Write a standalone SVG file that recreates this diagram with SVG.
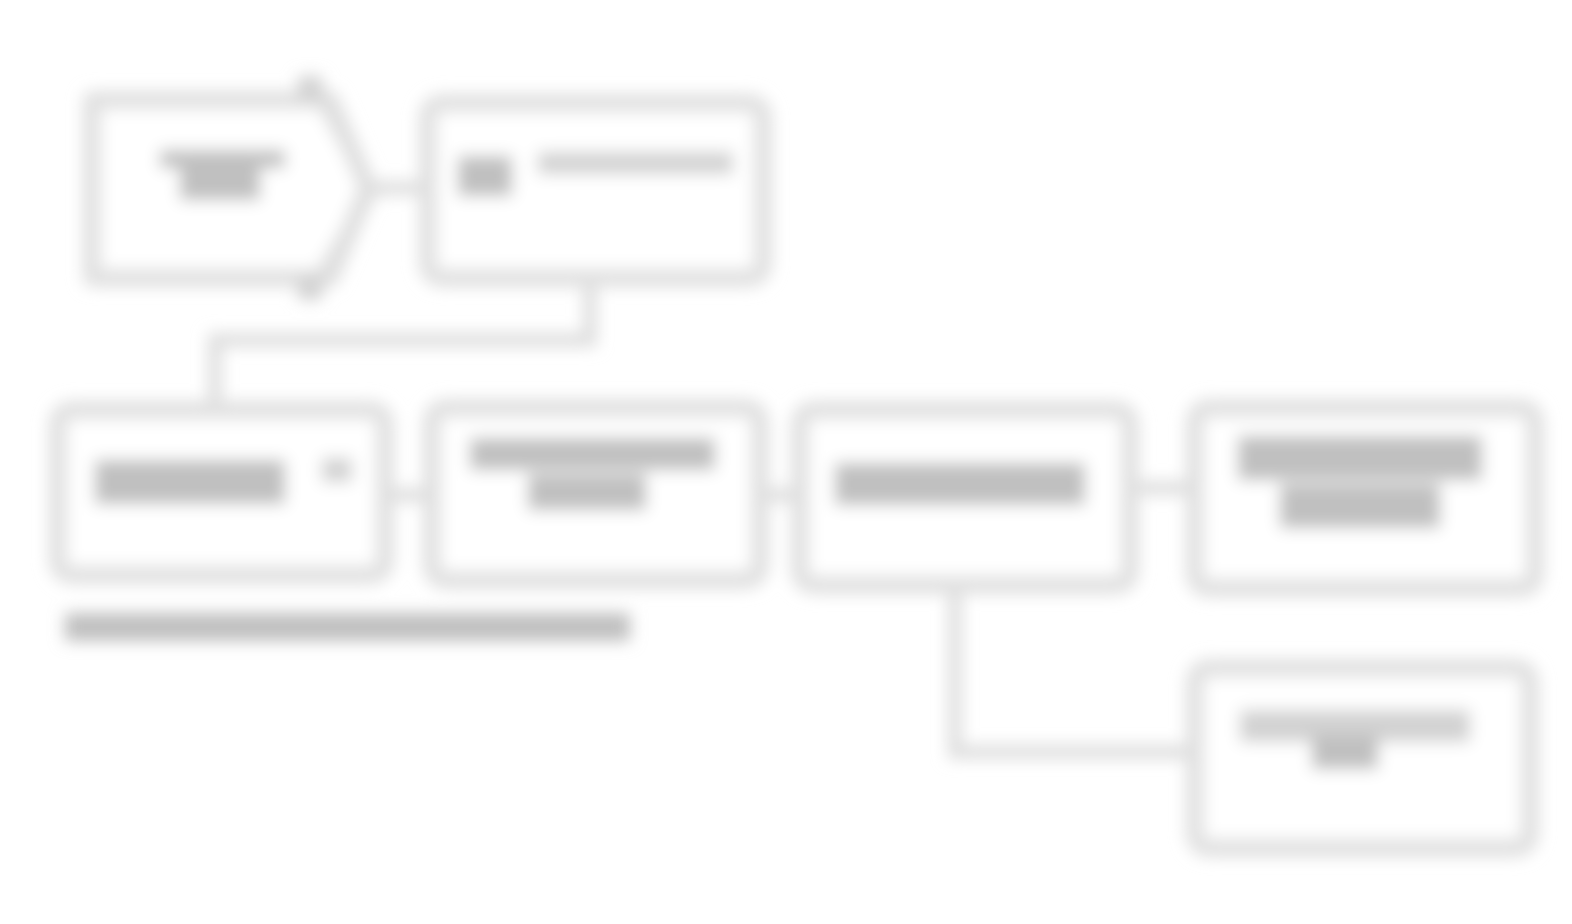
<svg xmlns="http://www.w3.org/2000/svg" width="1572" height="924" viewBox="0 0 1572 924">
<defs>
<filter id="blur" x="-5%" y="-5%" width="110%" height="110%"><feGaussianBlur stdDeviation="8"/></filter>
<style>
.box{fill:#ffffff;stroke:#e0e0e0;stroke-width:18}
.conn{fill:none;stroke:#dedede;stroke-width:14}
.smudge{fill:#c0c0c0}
.smudge2{fill:#d2d2d2}
</style>
</defs>
<rect width="1572" height="924" fill="#ffffff"/>
<g filter="url(#blur)">
<g id="connectors">
<path class="conn" d="M372 188 L428 188"/>
<path class="conn" d="M590 280 L590 340 L215 340 L215 408"/>
<path class="conn" d="M385 495 L430 495"/>
<path class="conn" d="M760 495 L797 495"/>
<path class="conn" d="M1130 488 L1192 488"/>
<path class="conn" d="M955 585 L955 752 L1192 752"/>
</g>
<g id="nodeA">
<path class="box" d="M92 100 L330 100 L368 188 L330 278 L92 278 Z" stroke-linejoin="round"/>
<path class="conn" d="M312 82 L372 190 L310 295"/>
<rect class="smudge2" x="298" y="76" width="24" height="24"/>
<rect class="smudge2" x="298" y="276" width="24" height="24"/>
<rect class="smudge" x="160" y="150" width="125" height="18"/>
<rect class="smudge" x="180" y="168" width="80" height="32"/>
</g>
<g id="nodeB">
<rect class="box" x="428" y="103" width="335" height="175" rx="14"/>
<rect class="smudge" x="458" y="156" width="54" height="40"/>
<rect class="smudge2" x="538" y="152" width="195" height="22"/>
</g>
<g id="nodeC">
<rect class="box" x="58" y="410" width="327" height="165" rx="14"/>
<rect class="smudge" x="95" y="460" width="190" height="44"/>
<rect class="smudge2" x="322" y="458" width="30" height="24"/>
</g>
<g id="nodeD">
<rect class="box" x="432" y="408" width="328" height="172" rx="14"/>
<rect class="smudge" x="470" y="438" width="245" height="32"/>
<rect class="smudge" x="528" y="474" width="118" height="36"/>
</g>
<g id="nodeE">
<rect class="box" x="800" y="410" width="330" height="175" rx="14"/>
<rect class="smudge" x="835" y="463" width="250" height="42"/>
</g>
<g id="nodeF">
<rect class="box" x="1195" y="408" width="340" height="180" rx="14"/>
<rect class="smudge" x="1238" y="436" width="244" height="44"/>
<rect class="smudge" x="1280" y="484" width="160" height="44"/>
</g>
<g id="nodeG">
<rect class="box" x="1195" y="668" width="335" height="180" rx="14"/>
<rect class="smudge2" x="1240" y="710" width="230" height="32"/>
<rect class="smudge" x="1312" y="735" width="66" height="34"/>
</g>
<g id="caption">
<rect class="smudge" x="65" y="613" width="565" height="28"/>
</g>
</g>
</svg>
